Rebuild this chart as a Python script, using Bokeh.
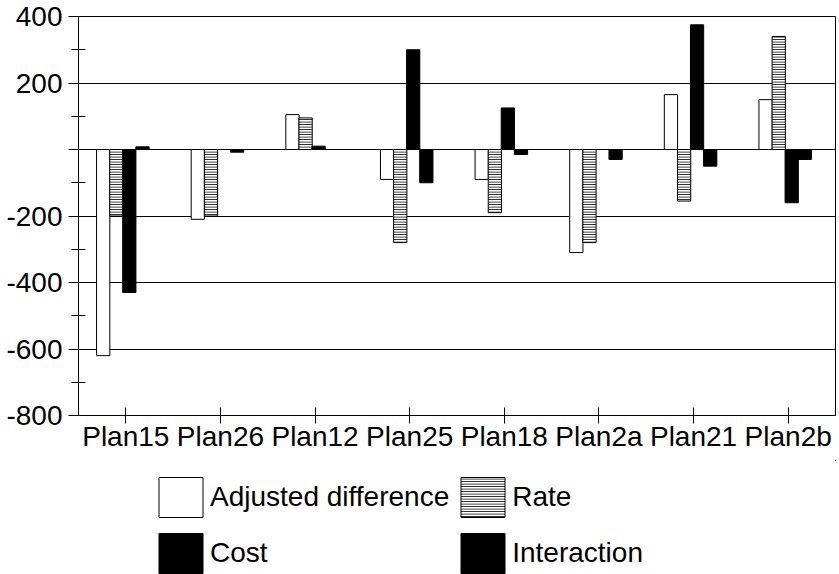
from bokeh.plotting import figure
from bokeh.layouts import column
from bokeh.models import FactorRange, Range1d, FixedTicker, Legend, LegendItem, ColumnDataSource
from bokeh.transform import dodge
from bokeh.embed import file_html
from bokeh.resources import INLINE

plans = ["Plan15", "Plan26", "Plan12", "Plan25", "Plan18", "Plan2a", "Plan21", "Plan2b"]
adjusted = [-620, -210, 105, -90, -90, -310, 165, 150]
rate = [-200, -200, 95, -280, -190, -280, -155, 340]
cost = [-430, 0, 10, 300, 125, 0, 375, -160]
interaction = [8, -8, 0, -100, -15, -30, -50, -30]
series_names = ["Adjusted difference", "Rate", "Cost", "Interaction"]
y_ticks = [-800, -600, -400, -200, 0, 200, 400]
y_tick_labels = ["-800", "-600", "-400", "-200", "", "200", "400"]
y_minor = [-700, -500, -300, -100, 100, 300]

FONT = "Liberation Sans"
W = 839
MAIN_H = 460

src = ColumnDataSource(dict(plan=plans, adjusted=adjusted, rate=rate,
                            cost=cost, interaction=interaction))

p = figure(x_range=FactorRange(*plans), y_range=Range1d(-800, 400),
           width=W, height=MAIN_H, output_backend="svg", toolbar_location=None,
           min_border_left=78, min_border_right=4, min_border_top=16,
           min_border_bottom=MAIN_H - 415)
p.x_range.range_padding = 0
p.outline_line_color = "black"
p.outline_line_width = 1
p.background_fill_color = "white"

w = 0.14
styles = [dict(fill_color="white", line_color="black", line_width=1),
          dict(fill_color="white", line_color="black", line_width=1,
               hatch_pattern="horizontal_line", hatch_color="black",
               hatch_scale=2.5, hatch_weight=1),
          dict(fill_color="black", line_color="black", line_width=1),
          dict(fill_color="black", line_color="black", line_width=1)]
cols = ["adjusted", "rate", "cost", "interaction"]
offsets = [-0.239, -0.100, 0.037, 0.176]
for c, off, st in zip(cols, offsets, styles):
    p.vbar(x=dodge("plan", off, range=p.x_range), top=c, bottom=0,
           width=w, source=src, **st)

# grid
p.xgrid.grid_line_color = None
p.ygrid.grid_line_color = "black"
p.ygrid.grid_line_width = 1
p.ygrid.ticker = FixedTicker(ticks=y_ticks)

# y axis
ya = p.yaxis[0]
ya.ticker = FixedTicker(ticks=y_ticks, minor_ticks=y_minor)
ya.major_label_overrides = dict(zip(y_ticks, y_tick_labels))
ya.major_tick_in = 0
ya.major_tick_out = 10
ya.minor_tick_in = 7
ya.minor_tick_out = 7
ya.major_label_standoff = 6
ya.axis_line_color = "black"
ya.major_tick_line_color = "black"
ya.minor_tick_line_color = "black"
ya.major_label_text_font = FONT
ya.major_label_text_font_size = "28px"
ya.major_label_text_color = "black"

# x axis
xa = p.xaxis[0]
xa.major_tick_in = 8
xa.major_tick_out = 8
xa.major_label_standoff = -3
xa.axis_line_color = "black"
xa.major_tick_line_color = "black"
xa.minor_tick_line_color = None
xa.major_label_text_font = FONT
xa.major_label_text_font_size = "28px"
xa.major_label_text_color = "black"

# legend in its own strip below the chart
LEG_H = 574 - MAIN_H
pl = figure(width=W, height=LEG_H, output_backend="svg", toolbar_location=None,
            x_axis_type=None, y_axis_type=None, x_range=Range1d(0, 1),
            y_range=Range1d(0, 1), min_border=0)
pl.outline_line_color = None
pl.grid.grid_line_color = None
# off-screen placeholders so the legend can draw its swatches
leg_renderers = [pl.vbar(x=[10], top=[10], bottom=[9], width=0.1, **st) for st in styles]

legend = Legend(items=[LegendItem(label=n, renderers=[r])
                       for n, r in zip(series_names, leg_renderers)],
                orientation="horizontal", ncols=2,
                location=(75, -4), glyph_width=55, glyph_height=50,
                label_standoff=2, spacing=6, padding=0, margin=0,
                border_line_color=None, background_fill_alpha=0,
                label_text_font=FONT, label_text_font_size="28px",
                label_text_color="black")
pl.add_layout(legend, "center")

layout = column(p, pl, spacing=0)
open("out.html", "w").write(file_html(layout, INLINE))
